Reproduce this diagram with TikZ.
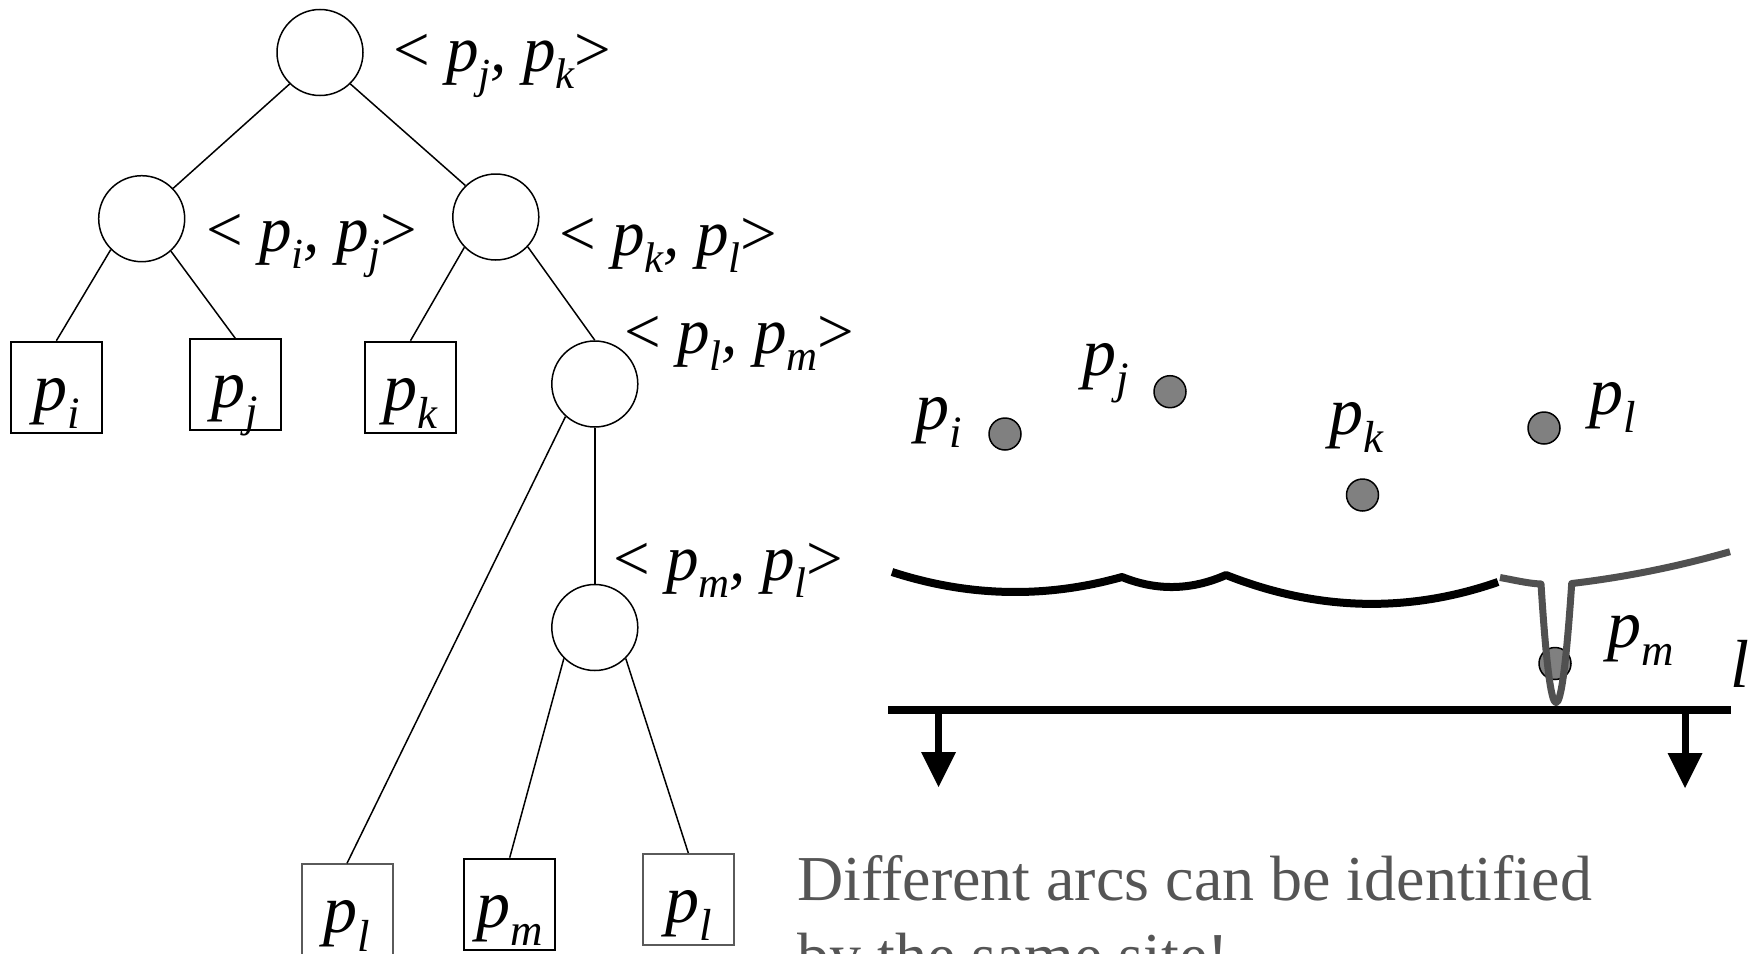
\documentclass[tikz,border=0pt]{standalone}
\usepackage{fontspec}
\setmainfont{Liberation Serif}
\usepackage{graphicx}
\definecolor{ptgray}{RGB}{128,128,128}
\definecolor{arcgray}{RGB}{80,80,80}
\definecolor{txtgray}{RGB}{85,85,85}
\definecolor{boxgray}{RGB}{90,90,90}
\newcommand\subx[1]{\raisebox{-0.27em}{\scalebox{0.66}{\itshape #1}}}
\newcommand\pp[1]{{\itshape p}\subx{#1}}
\newcommand\pair[2]{\textless\ \pp{#1}{\itshape ,} \pp{#2}\textgreater}
\begin{document}
\begin{tikzpicture}[x=1pt,y=-1pt,
  inode/.style={circle, draw, line width=1.5pt, minimum size=86pt, inner sep=0pt},
  leaf/.style={rectangle, draw, line width=2pt, minimum width=91pt, minimum height=91pt,
    inner sep=0pt, text height=46pt, text depth=0pt, font=\fontsize{68}{74}\selectfont},
  lbl/.style={anchor=base west, inner sep=0pt, font=\fontsize{65}{72}\selectfont},
  plbl/.style={anchor=base west, inner sep=0pt, font=\fontsize{68}{74}\selectfont},
  btxt/.style={anchor=base west, inner sep=0pt, text=txtgray, font=\fontsize{64}{77}\selectfont},
  edge/.style={line width=1.5pt},
  site/.style={circle, draw, fill=ptgray, line width=1.5pt, minimum size=32pt, inner sep=0pt},
  beach/.style={line width=8pt, line join=round},
  gbeach/.style={draw=arcgray, line width=7pt, line join=round},
]
\useasboundingbox (0,0) rectangle (1753,953);
\clip (0,0) rectangle (1753,953);

% tree
\node[inode] (root) at (320,52.5) {};
\node[inode] (L) at (141.7,218.7) {};
\node[inode] (R) at (495.8,217) {};
\node[inode] (LM) at (594.8,384) {};
\node[inode] (ML) at (594.8,627.5) {};
\node[leaf] (bi) at (56.4,387.2) {\pp{i}};
\node[leaf] (bj) at (235.2,384.7) {\pp{j}};
\node[leaf] (bk) at (410.5,387.2) {\pp{k}};
\node[leaf, draw=boxgray] (bl1) at (347,909.8) {\pp{l}};
\node[leaf] (bm) at (509.7,904.2) {\pp{m}};
\node[leaf, draw=boxgray] (bl2) at (688.3,899.5) {\pp{l}};

\node[lbl] (t1) at (393,71) {\pair{j}{k}};
\node[lbl] (t2) at (206,251) {\pair{i}{j}};
\node[lbl] (t3) at (559,255) {\pair{k}{l}};
\node[lbl] (t4) at (624,353) {\pair{l}{m}};
\node[lbl] (t5) at (613,580) {\pair{m}{l}};

\draw[edge] (root.-134) -- (L.44);
\draw[edge] (root.-46) -- (R.134);
\draw[edge] (L.-135) -- (bi.north);
\draw[edge] (L.-48) -- (bj.north);
\draw[edge] (R.-136) -- (bk.north);
\draw[edge] (R.-43) -- (LM.north);
\draw[edge] (LM.-132) -- (bl1.north);
\draw[edge] (LM.south) -- (ML.north);
\draw[edge] (ML.-135) -- (bm.north);
\draw[edge] (ML.-45) -- (bl2.north);

% sites
\node[site] (si) at (1005,434) {};
\node[site] (sj) at (1170,391.7) {};
\node[site] (sk) at (1362.5,495) {};
\node[site] (sl) at (1544,428) {};
\node[site] (sm) at (1555,663.5) {};

\node[plbl] (li) at (915,429) {\pp{i}};
\node[plbl] (lj) at (1082,375) {\pp{j}};
\node[plbl] (lk) at (1329,434) {\pp{k}};
\node[plbl] (ll) at (1589,414) {\pp{l}};
\node[plbl] (lm) at (1607,647) {\pp{m}};
\node[plbl] (lsw) at (1730,687) {\itshape l};

% beach line
\draw[beach] (892,572) .. controls (968.7,596.9) and (1045.3,598.5) .. (1122,577)
  .. controls (1156.7,591) and (1191.3,590.3) .. (1226,575)
  .. controls (1316.7,610.8) and (1407.3,613.5) .. (1498,582);
\draw[gbeach] (1500,577.5) .. controls (1514,580) and (1528,583.5) .. (1541,584)
  .. controls (1551,742.3) and (1561,742.3) .. (1571.7,583.5)
  .. controls (1624.5,577.3) and (1677.2,566.7) .. (1730,551.7);

% sweep line and arrows
\coordinate (swL) at (888,709.5);
\coordinate (swR) at (1731,709.5);
\draw[line width=8pt] (swL) -- (swR);
\coordinate (a1) at (938.5,709.5);
\coordinate (a1e) at (938.5,755);
\draw[line width=7pt] (a1) -- (a1e);
\fill (921,752) -- (956,752) -- (938.5,787) -- cycle;
\coordinate (a2) at (1685,709.5);
\coordinate (a2e) at (1685,756);
\draw[line width=7pt] (a2) -- (a2e);
\fill (1667.5,753) -- (1702.5,753) -- (1685,788) -- cycle;

% caption
\node[btxt] (d1) at (797,900) {Different arcs can be identified};
\node[btxt] (d2) at (797,977) {by the same site!};
\end{tikzpicture}
\end{document}
